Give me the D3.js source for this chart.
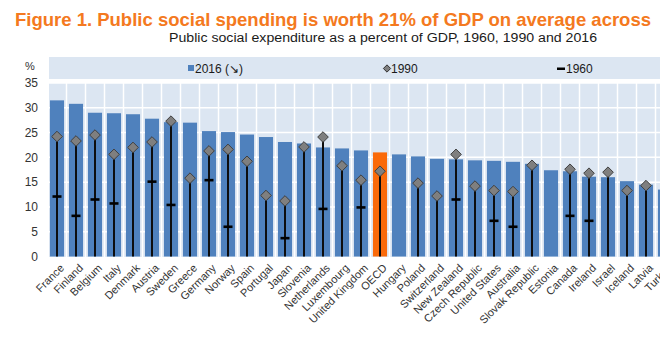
<!DOCTYPE html>
<html>
<head>
<meta charset="utf-8">
<script src="https://cdn.jsdelivr.net/npm/d3@7"></script>
<style>
  body { margin: 0; background: #fff; }
  svg { display: block; font-family: "Liberation Sans", Arial, sans-serif; }
</style>
</head>
<body>
<div id="chart"></div>
<script>
// data
const countries = ["France","Finland","Belgium","Italy","Denmark","Austria","Sweden","Greece","Germany","Norway","Spain","Portugal","Japan","Slovenia","Netherlands","Luxembourg","United Kingdom","OECD","Hungary","Poland","Switzerland","New Zealand","Czech Republic","United States","Australia","Slovak Republic","Estonia","Canada","Ireland","Israel","Iceland","Latvia","Turkey"];
const values2016 = [31.5,30.8,29.0,28.9,28.7,27.8,27.1,27.0,25.3,25.1,24.6,24.1,23.1,22.8,22.0,21.8,21.4,21.0,20.6,20.2,19.7,19.6,19.4,19.3,19.1,18.7,17.4,17.2,16.1,16.0,15.2,14.5,13.5];
const values1990 = [24.2,23.3,24.5,20.6,22.0,23.1,27.3,15.8,21.3,21.6,19.2,12.3,11.2,22.1,24.1,18.3,15.4,17.2,null,14.8,12.2,20.6,14.2,13.3,13.1,18.4,null,17.6,16.8,17.0,13.3,14.3,null];
const values1960 = [12.1,8.2,11.5,10.7,null,15.1,10.4,null,15.4,6.0,null,null,3.7,null,9.6,null,9.9,null,null,null,null,11.5,null,7.2,6.0,null,null,8.2,7.2,null,null,null,5.6];
const yTicks = [0,5,10,15,20,25,30,35];

const W = 660, H = 340;
const plot = {left: 49, top: 83, bottom: 257};
const step = 19;
const bandStart = 47.5;

const orange = "#f47920";
const barBlue = "#4f81bd";
const bgBlue = "#dce6f2";

const svg = d3.select("#chart").append("svg")
    .attr("width", W)
    .attr("height", H);

// title + subtitle (the title is cut at the right edge in the original)
svg.append("text")
    .attr("x", 15)
    .attr("y", 26)
    .attr("fill", orange)
    .attr("font-weight", "bold")
    .attr("font-size", 18.5)
    .attr("textLength", 636)
    .attr("lengthAdjust", "spacingAndGlyphs")
    .text("Figure 1. Public social spending is worth 21% of GDP on average across");

svg.append("text")
    .attr("x", 169)
    .attr("y", 42)
    .attr("fill", "#1a1a1a")
    .attr("font-size", 12.5)
    .attr("textLength", 428)
    .attr("lengthAdjust", "spacingAndGlyphs")
    .text("Public social expenditure as a percent of GDP, 1960, 1990 and 2016");

const xScale = d3.scaleBand()
    .domain(countries)
    .range([bandStart, bandStart + step * countries.length])
    .paddingInner(0.26)
    .paddingOuter(0.13);

const yScale = d3.scaleLinear()
    .domain([0, 35])
    .range([256.5, 83]);

const cx = d => xScale(d) + xScale.bandwidth() / 2;

// legend band
svg.append("rect")
    .attr("x", plot.left).attr("y", 57)
    .attr("width", W - plot.left).attr("height", 22)
    .attr("fill", bgBlue);

const legend = svg.append("g").attr("font-size", 12).attr("fill", "#1a1a1a");
legend.append("rect")
    .attr("x", 188).attr("y", 65).attr("width", 6).attr("height", 6)
    .attr("fill", barBlue);
legend.append("text").attr("x", 195).attr("y", 72.5).text("2016 (\u2198)");
legend.append("path")
    .attr("d", d3.symbol(d3.symbolDiamond2, 34)())
    .attr("transform", "translate(387,68.5)")
    .attr("fill", "#7f7f7f")
    .attr("stroke", "#333")
    .attr("stroke-width", 1);
legend.append("text").attr("x", 391).attr("y", 72.5).text("1990");
legend.append("rect")
    .attr("x", 557).attr("y", 67.5).attr("width", 8).attr("height", 2.5)
    .attr("fill", "#000");
legend.append("text").attr("x", 566).attr("y", 72.5).text("1960");

// plot background
svg.append("rect")
    .attr("x", plot.left).attr("y", plot.top)
    .attr("width", W - plot.left).attr("height", plot.bottom - plot.top)
    .attr("fill", bgBlue);

// grid
svg.append("g")
    .selectAll("line")
    .data(yTicks.filter(t => t > 0))
    .join("line")
    .attr("x1", plot.left).attr("x2", W)
    .attr("y1", d => yScale(d)).attr("y2", d => yScale(d))
    .attr("stroke", "#fff").attr("stroke-width", 1.5);

svg.append("g")
    .selectAll("line")
    .data(countries.slice(1))
    .join("line")
    .attr("x1", d => xScale(d) - xScale.step() * xScale.paddingInner() / 2)
    .attr("x2", d => xScale(d) - xScale.step() * xScale.paddingInner() / 2)
    .attr("y1", plot.top).attr("y2", plot.bottom)
    .attr("stroke", "#fff").attr("stroke-width", 1.5);

// bars 2016
svg.append("g")
    .selectAll("rect")
    .data(countries)
    .join("rect")
    .attr("x", d => xScale(d))
    .attr("width", xScale.bandwidth())
    .attr("y", (d, i) => yScale(values2016[i]))
    .attr("height", (d, i) => yScale(0) - yScale(values2016[i]))
    .attr("fill", d => d === "OECD" ? "#fa6a0a" : barBlue);

// vertical lines up to the highest of 1990 / 1960
svg.append("g")
    .selectAll("line")
    .data(countries.filter((d, i) => values1990[i] != null || values1960[i] != null))
    .join("line")
    .attr("x1", cx).attr("x2", cx)
    .attr("y1", yScale(0))
    .attr("y2", d => {
        const i = countries.indexOf(d);
        return yScale(Math.max(values1990[i] || 0, values1960[i] || 0));
    })
    .attr("stroke", "#0d0d0d").attr("stroke-width", 2);

// 1960 dashes
svg.append("g")
    .selectAll("rect")
    .data(countries.filter((d, i) => values1960[i] != null))
    .join("rect")
    .attr("x", d => cx(d) - 4.5)
    .attr("y", d => yScale(values1960[countries.indexOf(d)]) - 1.3)
    .attr("width", 9).attr("height", 2.6)
    .attr("fill", "#000");

// 1990 diamonds
svg.append("g")
    .selectAll("path")
    .data(countries.filter((d, i) => values1990[i] != null))
    .join("path")
    .attr("d", d3.symbol(d3.symbolDiamond2, 72)())
    .attr("transform", d => `translate(${cx(d)},${yScale(values1990[countries.indexOf(d)])})`)
    .attr("fill", "#7f7f7f")
    .attr("stroke", "#404040")
    .attr("stroke-width", 1);

// y axis labels
const yAxis = svg.append("g")
    .attr("transform", `translate(38,0)`)
    .call(d3.axisLeft(yScale).tickValues(yTicks).tickSize(0).tickPadding(0));
yAxis.select(".domain").remove();
yAxis.selectAll("text")
    .attr("font-size", 12)
    .attr("font-family", "Liberation Sans, Arial, sans-serif")
    .attr("fill", "#333");

svg.append("text")
    .attr("x", 25).attr("y", 70)
    .attr("font-size", 11)
    .attr("fill", "#333")
    .text("%");

// x labels
svg.append("g")
    .selectAll("text")
    .data(countries)
    .join("text")
    .attr("transform", d => `translate(${cx(d) + 5},${266}) rotate(-45)`)
    .attr("text-anchor", "end")
    .attr("dy", "0.35em")
    .attr("font-size", 11)
    .attr("fill", "#333")
    .text(d => d);
</script>
</body>
</html>
